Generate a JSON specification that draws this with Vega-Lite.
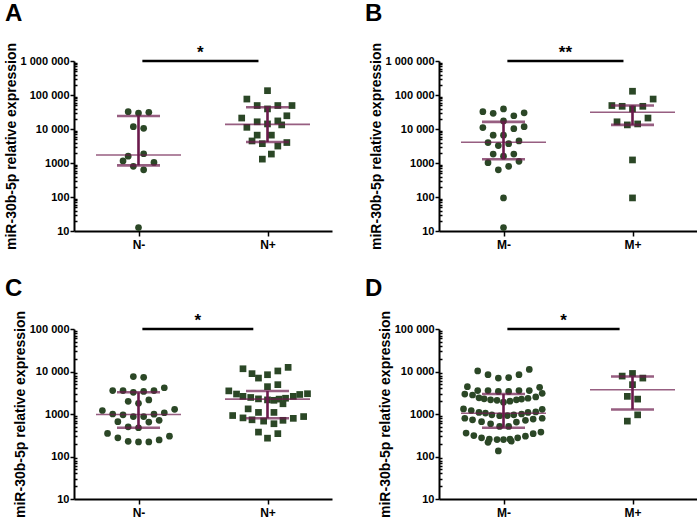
{
  "$schema": "https://vega.github.io/schema/vega-lite/v6.json",
  "padding": {"left": 4, "top": 1, "right": 0, "bottom": 0},
  "background": "white",
  "datasets": {
    "pts": [
      {"panel":"A","group":"N-","value":32400,"jitter":-0.08},
      {"panel":"A","group":"N-","value":29500,"jitter":0},
      {"panel":"A","group":"N-","value":31000,"jitter":0.08},
      {"panel":"A","group":"N-","value":11700,"jitter":-0.04},
      {"panel":"A","group":"N-","value":10500,"jitter":0.04},
      {"panel":"A","group":"N-","value":1590,"jitter":-0.08},
      {"panel":"A","group":"N-","value":1870,"jitter":0.04},
      {"panel":"A","group":"N-","value":1150,"jitter":-0.12},
      {"panel":"A","group":"N-","value":1040,"jitter":0.12},
      {"panel":"A","group":"N-","value":800,"jitter":-0.04},
      {"panel":"A","group":"N-","value":630,"jitter":0.04},
      {"panel":"A","group":"N-","value":12.6,"jitter":0},
      {"panel":"A","group":"N+","value":134000,"jitter":0},
      {"panel":"A","group":"N+","value":76000,"jitter":-0.16},
      {"panel":"A","group":"N+","value":49000,"jitter":-0.08},
      {"panel":"A","group":"N+","value":49000,"jitter":0.08},
      {"panel":"A","group":"N+","value":49000,"jitter":0.19},
      {"panel":"A","group":"N+","value":39000,"jitter":0},
      {"panel":"A","group":"N+","value":21000,"jitter":-0.2},
      {"panel":"A","group":"N+","value":24500,"jitter":0.15},
      {"panel":"A","group":"N+","value":16300,"jitter":-0.08},
      {"panel":"A","group":"N+","value":17300,"jitter":0.08},
      {"panel":"A","group":"N+","value":14100,"jitter":0},
      {"panel":"A","group":"N+","value":13200,"jitter":0.11},
      {"panel":"A","group":"N+","value":11200,"jitter":-0.16},
      {"panel":"A","group":"N+","value":6600,"jitter":-0.08},
      {"panel":"A","group":"N+","value":6600,"jitter":0.03},
      {"panel":"A","group":"N+","value":4450,"jitter":-0.12},
      {"panel":"A","group":"N+","value":3700,"jitter":-0.04},
      {"panel":"A","group":"N+","value":3150,"jitter":0.08},
      {"panel":"A","group":"N+","value":4000,"jitter":0.15},
      {"panel":"A","group":"N+","value":1830,"jitter":0.03},
      {"panel":"A","group":"N+","value":1300,"jitter":-0.04},

      {"panel":"B","group":"M-","value":32400,"jitter":-0.16},
      {"panel":"B","group":"M-","value":29000,"jitter":-0.08},
      {"panel":"B","group":"M-","value":39000,"jitter":0},
      {"panel":"B","group":"M-","value":24500,"jitter":0.08},
      {"panel":"B","group":"M-","value":30000,"jitter":0.16},
      {"panel":"B","group":"M-","value":17300,"jitter":0},
      {"panel":"B","group":"M-","value":11000,"jitter":-0.16},
      {"panel":"B","group":"M-","value":11700,"jitter":0.16},
      {"panel":"B","group":"M-","value":10200,"jitter":0.08},
      {"panel":"B","group":"M-","value":6600,"jitter":-0.08},
      {"panel":"B","group":"M-","value":6600,"jitter":0},
      {"panel":"B","group":"M-","value":4000,"jitter":-0.12},
      {"panel":"B","group":"M-","value":3250,"jitter":-0.04},
      {"panel":"B","group":"M-","value":3700,"jitter":0.04},
      {"panel":"B","group":"M-","value":4450,"jitter":0.12},
      {"panel":"B","group":"M-","value":1830,"jitter":-0.08},
      {"panel":"B","group":"M-","value":1830,"jitter":0.08},
      {"panel":"B","group":"M-","value":1590,"jitter":0},
      {"panel":"B","group":"M-","value":1020,"jitter":-0.12},
      {"panel":"B","group":"M-","value":1120,"jitter":0.12},
      {"panel":"B","group":"M-","value":800,"jitter":0.04},
      {"panel":"B","group":"M-","value":630,"jitter":-0.04},
      {"panel":"B","group":"M-","value":94,"jitter":0},
      {"panel":"B","group":"M-","value":12.6,"jitter":0},
      {"panel":"B","group":"M+","value":129000,"jitter":0},
      {"panel":"B","group":"M+","value":76000,"jitter":0.16},
      {"panel":"B","group":"M+","value":49000,"jitter":-0.16},
      {"panel":"B","group":"M+","value":46500,"jitter":-0.08},
      {"panel":"B","group":"M+","value":46500,"jitter":0.08},
      {"panel":"B","group":"M+","value":39000,"jitter":0},
      {"panel":"B","group":"M+","value":21000,"jitter":0.12},
      {"panel":"B","group":"M+","value":16300,"jitter":-0.12},
      {"panel":"B","group":"M+","value":13200,"jitter":-0.04},
      {"panel":"B","group":"M+","value":14100,"jitter":0.04},
      {"panel":"B","group":"M+","value":1230,"jitter":0},
      {"panel":"B","group":"M+","value":94,"jitter":0},

      {"panel":"C","group":"N-","value":7600,"jitter":-0.04},
      {"panel":"C","group":"N-","value":7300,"jitter":0.04},
      {"panel":"C","group":"N-","value":3550,"jitter":-0.2},
      {"panel":"C","group":"N-","value":3550,"jitter":-0.12},
      {"panel":"C","group":"N-","value":3240,"jitter":-0.04},
      {"panel":"C","group":"N-","value":3400,"jitter":0.04},
      {"panel":"C","group":"N-","value":3550,"jitter":0.12},
      {"panel":"C","group":"N-","value":4150,"jitter":0.2},
      {"panel":"C","group":"N-","value":1990,"jitter":-0.08},
      {"panel":"C","group":"N-","value":2140,"jitter":0.08},
      {"panel":"C","group":"N-","value":1780,"jitter":0},
      {"panel":"C","group":"N-","value":1210,"jitter":-0.28},
      {"panel":"C","group":"N-","value":1290,"jitter":0.28},
      {"panel":"C","group":"N-","value":1000,"jitter":-0.2},
      {"panel":"C","group":"N-","value":955,"jitter":-0.12},
      {"panel":"C","group":"N-","value":870,"jitter":-0.04},
      {"panel":"C","group":"N-","value":870,"jitter":0.04},
      {"panel":"C","group":"N-","value":990,"jitter":0.12},
      {"panel":"C","group":"N-","value":1070,"jitter":0.2},
      {"panel":"C","group":"N-","value":660,"jitter":-0.16},
      {"panel":"C","group":"N-","value":645,"jitter":0.08},
      {"panel":"C","group":"N-","value":710,"jitter":0.16},
      {"panel":"C","group":"N-","value":500,"jitter":-0.08},
      {"panel":"C","group":"N-","value":475,"jitter":0},
      {"panel":"C","group":"N-","value":350,"jitter":-0.24},
      {"panel":"C","group":"N-","value":275,"jitter":-0.16},
      {"panel":"C","group":"N-","value":228,"jitter":-0.08},
      {"panel":"C","group":"N-","value":220,"jitter":0},
      {"panel":"C","group":"N-","value":220,"jitter":0.08},
      {"panel":"C","group":"N-","value":245,"jitter":0.16},
      {"panel":"C","group":"N-","value":300,"jitter":0.24},
      {"panel":"C","group":"N+","value":11600,"jitter":-0.19},
      {"panel":"C","group":"N+","value":12500,"jitter":0.16},
      {"panel":"C","group":"N+","value":10300,"jitter":0.08},
      {"panel":"C","group":"N+","value":8900,"jitter":-0.12},
      {"panel":"C","group":"N+","value":7000,"jitter":-0.07},
      {"panel":"C","group":"N+","value":8400,"jitter":0},
      {"panel":"C","group":"N+","value":4400,"jitter":0},
      {"panel":"C","group":"N+","value":4900,"jitter":0.08},
      {"panel":"C","group":"N+","value":3500,"jitter":-0.3},
      {"panel":"C","group":"N+","value":2950,"jitter":-0.24},
      {"panel":"C","group":"N+","value":2600,"jitter":-0.19},
      {"panel":"C","group":"N+","value":2450,"jitter":-0.13},
      {"panel":"C","group":"N+","value":2270,"jitter":-0.07},
      {"panel":"C","group":"N+","value":2150,"jitter":0},
      {"panel":"C","group":"N+","value":2100,"jitter":0.05},
      {"panel":"C","group":"N+","value":2240,"jitter":0.09},
      {"panel":"C","group":"N+","value":2350,"jitter":0.14},
      {"panel":"C","group":"N+","value":2600,"jitter":0.2},
      {"panel":"C","group":"N+","value":2880,"jitter":0.25},
      {"panel":"C","group":"N+","value":3000,"jitter":0.31},
      {"panel":"C","group":"N+","value":1740,"jitter":0.12},
      {"panel":"C","group":"N+","value":1320,"jitter":-0.15},
      {"panel":"C","group":"N+","value":1090,"jitter":-0.07},
      {"panel":"C","group":"N+","value":1090,"jitter":0.05},
      {"panel":"C","group":"N+","value":920,"jitter":-0.27},
      {"panel":"C","group":"N+","value":810,"jitter":-0.19},
      {"panel":"C","group":"N+","value":730,"jitter":-0.12},
      {"panel":"C","group":"N+","value":680,"jitter":-0.03},
      {"panel":"C","group":"N+","value":590,"jitter":0.05},
      {"panel":"C","group":"N+","value":710,"jitter":0.12},
      {"panel":"C","group":"N+","value":790,"jitter":0.2},
      {"panel":"C","group":"N+","value":870,"jitter":0.28},
      {"panel":"C","group":"N+","value":375,"jitter":-0.07},
      {"panel":"C","group":"N+","value":270,"jitter":0},
      {"panel":"C","group":"N+","value":345,"jitter":0.08},

      {"panel":"D","group":"M-","value":10300,"jitter":-0.2},
      {"panel":"D","group":"M-","value":8400,"jitter":-0.12},
      {"panel":"D","group":"M-","value":7000,"jitter":-0.04},
      {"panel":"D","group":"M-","value":7200,"jitter":0.04},
      {"panel":"D","group":"M-","value":8400,"jitter":0.12},
      {"panel":"D","group":"M-","value":11200,"jitter":0.2},
      {"panel":"D","group":"M-","value":4400,"jitter":-0.28},
      {"panel":"D","group":"M-","value":4250,"jitter":0.28},
      {"panel":"D","group":"M-","value":3550,"jitter":-0.2},
      {"panel":"D","group":"M-","value":3550,"jitter":-0.12},
      {"panel":"D","group":"M-","value":3400,"jitter":-0.04},
      {"panel":"D","group":"M-","value":3400,"jitter":0.04},
      {"panel":"D","group":"M-","value":3550,"jitter":0.12},
      {"panel":"D","group":"M-","value":3550,"jitter":0.2},
      {"panel":"D","group":"M-","value":2950,"jitter":-0.3},
      {"panel":"D","group":"M-","value":3070,"jitter":0.3},
      {"panel":"D","group":"M-","value":2800,"jitter":-0.24},
      {"panel":"D","group":"M-","value":2400,"jitter":-0.19},
      {"panel":"D","group":"M-","value":2270,"jitter":-0.15},
      {"panel":"D","group":"M-","value":2150,"jitter":-0.1},
      {"panel":"D","group":"M-","value":2100,"jitter":-0.05},
      {"panel":"D","group":"M-","value":1900,"jitter":0},
      {"panel":"D","group":"M-","value":2000,"jitter":0.05},
      {"panel":"D","group":"M-","value":2150,"jitter":0.1},
      {"panel":"D","group":"M-","value":2240,"jitter":0.14},
      {"panel":"D","group":"M-","value":2350,"jitter":0.19},
      {"panel":"D","group":"M-","value":2520,"jitter":0.25},
      {"panel":"D","group":"M-","value":1320,"jitter":-0.31},
      {"panel":"D","group":"M-","value":1290,"jitter":0.3},
      {"panel":"D","group":"M-","value":1210,"jitter":-0.25},
      {"panel":"D","group":"M-","value":1090,"jitter":-0.19},
      {"panel":"D","group":"M-","value":1050,"jitter":-0.14},
      {"panel":"D","group":"M-","value":955,"jitter":-0.09},
      {"panel":"D","group":"M-","value":910,"jitter":-0.03},
      {"panel":"D","group":"M-","value":920,"jitter":0.03},
      {"panel":"D","group":"M-","value":955,"jitter":0.08},
      {"panel":"D","group":"M-","value":1000,"jitter":0.14},
      {"panel":"D","group":"M-","value":1090,"jitter":0.19},
      {"panel":"D","group":"M-","value":1120,"jitter":0.25},
      {"panel":"D","group":"M-","value":795,"jitter":-0.3},
      {"panel":"D","group":"M-","value":730,"jitter":-0.24},
      {"panel":"D","group":"M-","value":660,"jitter":-0.17},
      {"panel":"D","group":"M-","value":590,"jitter":-0.1},
      {"panel":"D","group":"M-","value":510,"jitter":-0.03},
      {"panel":"D","group":"M-","value":510,"jitter":0.04},
      {"panel":"D","group":"M-","value":645,"jitter":0.1},
      {"panel":"D","group":"M-","value":710,"jitter":0.17},
      {"panel":"D","group":"M-","value":760,"jitter":0.23},
      {"panel":"D","group":"M-","value":795,"jitter":0.3},
      {"panel":"D","group":"M-","value":355,"jitter":-0.29},
      {"panel":"D","group":"M-","value":310,"jitter":-0.23},
      {"panel":"D","group":"M-","value":275,"jitter":-0.17},
      {"panel":"D","group":"M-","value":255,"jitter":-0.11},
      {"panel":"D","group":"M-","value":250,"jitter":-0.05},
      {"panel":"D","group":"M-","value":250,"jitter":0},
      {"panel":"D","group":"M-","value":255,"jitter":0.05},
      {"panel":"D","group":"M-","value":275,"jitter":0.11},
      {"panel":"D","group":"M-","value":300,"jitter":0.17},
      {"panel":"D","group":"M-","value":345,"jitter":0.23},
      {"panel":"D","group":"M-","value":375,"jitter":0.29},
      {"panel":"D","group":"M-","value":215,"jitter":-0.12},
      {"panel":"D","group":"M-","value":230,"jitter":0.06},
      {"panel":"D","group":"M-","value":135,"jitter":-0.04},
      {"panel":"D","group":"M+","value":9000,"jitter":0},
      {"panel":"D","group":"M+","value":7800,"jitter":-0.08},
      {"panel":"D","group":"M+","value":7000,"jitter":0.08},
      {"panel":"D","group":"M+","value":4900,"jitter":0},
      {"panel":"D","group":"M+","value":2600,"jitter":-0.04},
      {"panel":"D","group":"M+","value":2240,"jitter":0.04},
      {"panel":"D","group":"M+","value":955,"jitter":0.04},
      {"panel":"D","group":"M+","value":680,"jitter":-0.04}
    ],
    "stats": [
      {"panel":"A","group":"N-","median":1720,"q1":850,"q3":24000},
      {"panel":"A","group":"N+","median":13700,"q1":4150,"q3":43500},
      {"panel":"B","group":"M-","median":4070,"q1":1290,"q3":16200},
      {"panel":"B","group":"M+","median":31000,"q1":13200,"q3":49000},
      {"panel":"C","group":"N-","median":975,"q1":475,"q3":3240},
      {"panel":"C","group":"N+","median":2240,"q1":795,"q3":3470},
      {"panel":"D","group":"M-","median":1040,"q1":475,"q3":2950},
      {"panel":"D","group":"M+","median":3730,"q1":1280,"q3":7600}
    ],
    "sig": [
      {"panel":"A","from":1.03,"to":1.93,"level":1000000,"label":"*"},
      {"panel":"B","from":1.03,"to":1.93,"level":1000000,"label":"**"},
      {"panel":"C","from":1.03,"to":1.89,"level":100000,"label":"*"},
      {"panel":"D","from":1.03,"to":1.9,"level":100000,"label":"*"}
    ]
  },
  "config": {
    "font": "Liberation Sans",
    "view": {"stroke": null},
    "axis": {"grid": false, "domainColor": "black", "domainWidth": 2, "tickColor": "black", "tickWidth": 1.5, "labelColor": "black", "labelFont": "Liberation Sans", "labelFontWeight": "bold", "labelFontSize": 11, "titleFont": "Liberation Sans", "titleFontWeight": "bold", "titleFontSize": 14, "titleColor": "black"},
    "title": {"font": "Liberation Sans", "fontSize": 24, "fontWeight": "bold", "color": "black", "anchor": "start", "frame": "group"}
  },
  "columns": 2,
  "spacing": {"row": 26, "column": 33},
  "concat": [
    {
      "width": 258, "height": 170,
      "title": {"text": "A", "dx": -69, "offset": 17},
      "layer": [
        {
          "data": {"name": "pts"},
          "transform": [{"filter": "datum.panel == 'A'"}, {"calculate": "(indexof(datum.group, '+') >= 0 ? 2 : 1) + datum.jitter", "as": "x"}],
          "mark": {"type": "point", "filled": true, "opacity": 1, "size": 45, "color": "#2b4726"},
          "encoding": {
            "x": {"field": "x", "type": "quantitative", "scale": {"domain": [0.5, 2.5], "nice": false, "zero": false}, "axis": {"title": null, "values": [1, 2], "labelExpr": "datum.value == 1 ? 'N-' : 'N+'", "labelFontSize": 12, "tickSize": 5, "labelPadding": 3}},
            "y": {"field": "value", "type": "quantitative", "scale": {"type": "log", "domain": [10, 1000000], "nice": false}, "axis": {"title": "miR-30b-5p relative expression", "titlePadding": 2, "values": [10,20,30,40,50,60,70,80,90,100,200,300,400,500,600,700,800,900,1000,2000,3000,4000,5000,6000,7000,8000,9000,10000,20000,30000,40000,50000,60000,70000,80000,90000,100000,200000,300000,400000,500000,600000,700000,800000,900000,1000000], "labelExpr": "datum.value == 1000000 ? '1 000 000' : datum.value == 100000 ? '100 000' : datum.value == 10000 ? '10 000' : datum.value == 1000 ? '1000' : datum.value == 100 ? '100' : datum.value == 10 ? '10' : ''", "tickSize": {"condition": {"test": "indexof([10,100,1000,10000,100000,1000000], datum.value) >= 0", "value": 4}, "value": -3}, "labelPadding": 1}},
            "shape": {"condition": {"test": "indexof(datum.group, '+') >= 0", "value": "square"}, "value": "circle"}
          }
        },
        {
          "data": {"name": "stats"},
          "transform": [{"filter": "datum.panel == 'A'"}, {"calculate": "indexof(datum.group, '+') >= 0 ? 2 : 1", "as": "x"}],
          "layer": [
            {"mark": {"type": "tick", "orient": "horizontal", "size": 85, "thickness": 1.6, "color": "#6b1a4c"}, "encoding": {"x": {"field": "x", "type": "quantitative"}, "y": {"field": "median", "type": "quantitative"}}},
            {"mark": {"type": "tick", "orient": "horizontal", "size": 43, "thickness": 2.6, "color": "#6b1a4c"}, "encoding": {"x": {"field": "x", "type": "quantitative"}, "y": {"field": "q1", "type": "quantitative"}}},
            {"mark": {"type": "tick", "orient": "horizontal", "size": 43, "thickness": 2.6, "color": "#6b1a4c"}, "encoding": {"x": {"field": "x", "type": "quantitative"}, "y": {"field": "q3", "type": "quantitative"}}},
            {"mark": {"type": "rule", "strokeWidth": 2.6, "color": "#6b1a4c"}, "encoding": {"x": {"field": "x", "type": "quantitative"}, "y": {"field": "q1", "type": "quantitative"}, "y2": {"field": "q3"}}}
          ]
        },
        {
          "data": {"name": "sig"},
          "transform": [{"filter": "datum.panel == 'A'"}, {"calculate": "(datum.from + datum.to) / 2", "as": "x"}],
          "layer": [
            {"mark": {"type": "rule", "strokeWidth": 2.6, "color": "black"}, "encoding": {"x": {"field": "from", "type": "quantitative"}, "x2": {"field": "to"}, "y": {"field": "level", "type": "quantitative"}}},
            {"mark": {"type": "text", "fontSize": 17, "fontWeight": "bold", "baseline": "alphabetic", "dy": -3, "color": "black"}, "encoding": {"x": {"field": "x", "type": "quantitative"}, "y": {"field": "level", "type": "quantitative"}, "text": {"field": "label"}}}
          ]
        }
      ]
    },
    {
      "width": 258, "height": 170,
      "title": {"text": "B", "dx": -74, "offset": 17},
      "layer": [
        {
          "data": {"name": "pts"},
          "transform": [{"filter": "datum.panel == 'B'"}, {"calculate": "(indexof(datum.group, '+') >= 0 ? 2 : 1) + datum.jitter", "as": "x"}],
          "mark": {"type": "point", "filled": true, "opacity": 1, "size": 45, "color": "#2b4726"},
          "encoding": {
            "x": {"field": "x", "type": "quantitative", "scale": {"domain": [0.5, 2.5], "nice": false, "zero": false}, "axis": {"title": null, "values": [1, 2], "labelExpr": "datum.value == 1 ? 'M-' : 'M+'", "labelFontSize": 12, "tickSize": 5, "labelPadding": 3}},
            "y": {"field": "value", "type": "quantitative", "scale": {"type": "log", "domain": [10, 1000000], "nice": false}, "axis": {"title": "miR-30b-5p relative expression", "titlePadding": 2, "values": [10,20,30,40,50,60,70,80,90,100,200,300,400,500,600,700,800,900,1000,2000,3000,4000,5000,6000,7000,8000,9000,10000,20000,30000,40000,50000,60000,70000,80000,90000,100000,200000,300000,400000,500000,600000,700000,800000,900000,1000000], "labelExpr": "datum.value == 1000000 ? '1 000 000' : datum.value == 100000 ? '100 000' : datum.value == 10000 ? '10 000' : datum.value == 1000 ? '1000' : datum.value == 100 ? '100' : datum.value == 10 ? '10' : ''", "tickSize": {"condition": {"test": "indexof([10,100,1000,10000,100000,1000000], datum.value) >= 0", "value": 4}, "value": -3}, "labelPadding": 1}},
            "shape": {"condition": {"test": "indexof(datum.group, '+') >= 0", "value": "square"}, "value": "circle"}
          }
        },
        {
          "data": {"name": "stats"},
          "transform": [{"filter": "datum.panel == 'B'"}, {"calculate": "indexof(datum.group, '+') >= 0 ? 2 : 1", "as": "x"}],
          "layer": [
            {"mark": {"type": "tick", "orient": "horizontal", "size": 85, "thickness": 1.6, "color": "#6b1a4c"}, "encoding": {"x": {"field": "x", "type": "quantitative"}, "y": {"field": "median", "type": "quantitative"}}},
            {"mark": {"type": "tick", "orient": "horizontal", "size": 43, "thickness": 2.6, "color": "#6b1a4c"}, "encoding": {"x": {"field": "x", "type": "quantitative"}, "y": {"field": "q1", "type": "quantitative"}}},
            {"mark": {"type": "tick", "orient": "horizontal", "size": 43, "thickness": 2.6, "color": "#6b1a4c"}, "encoding": {"x": {"field": "x", "type": "quantitative"}, "y": {"field": "q3", "type": "quantitative"}}},
            {"mark": {"type": "rule", "strokeWidth": 2.6, "color": "#6b1a4c"}, "encoding": {"x": {"field": "x", "type": "quantitative"}, "y": {"field": "q1", "type": "quantitative"}, "y2": {"field": "q3"}}}
          ]
        },
        {
          "data": {"name": "sig"},
          "transform": [{"filter": "datum.panel == 'B'"}, {"calculate": "(datum.from + datum.to) / 2", "as": "x"}],
          "layer": [
            {"mark": {"type": "rule", "strokeWidth": 2.6, "color": "black"}, "encoding": {"x": {"field": "from", "type": "quantitative"}, "x2": {"field": "to"}, "y": {"field": "level", "type": "quantitative"}}},
            {"mark": {"type": "text", "fontSize": 17, "fontWeight": "bold", "baseline": "alphabetic", "dy": -3, "color": "black"}, "encoding": {"x": {"field": "x", "type": "quantitative"}, "y": {"field": "level", "type": "quantitative"}, "text": {"field": "label"}}}
          ]
        }
      ]
    },
    {
      "width": 258, "height": 170,
      "title": {"text": "C", "dx": -69, "offset": 10},
      "layer": [
        {
          "data": {"name": "pts"},
          "transform": [{"filter": "datum.panel == 'C'"}, {"calculate": "(indexof(datum.group, '+') >= 0 ? 2 : 1) + datum.jitter", "as": "x"}],
          "mark": {"type": "point", "filled": true, "opacity": 1, "size": 45, "color": "#2b4726"},
          "encoding": {
            "x": {"field": "x", "type": "quantitative", "scale": {"domain": [0.5, 2.5], "nice": false, "zero": false}, "axis": {"title": null, "values": [1, 2], "labelExpr": "datum.value == 1 ? 'N-' : 'N+'", "labelFontSize": 12, "tickSize": 5, "labelPadding": 3}},
            "y": {"field": "value", "type": "quantitative", "scale": {"type": "log", "domain": [10, 100000], "nice": false}, "axis": {"title": "miR-30b-5p relative expression", "titlePadding": 2, "values": [10,20,30,40,50,60,70,80,90,100,200,300,400,500,600,700,800,900,1000,2000,3000,4000,5000,6000,7000,8000,9000,10000,20000,30000,40000,50000,60000,70000,80000,90000,100000], "labelExpr": "datum.value == 100000 ? '100 000' : datum.value == 10000 ? '10 000' : datum.value == 1000 ? '1000' : datum.value == 100 ? '100' : datum.value == 10 ? '10' : ''", "tickSize": {"condition": {"test": "indexof([10,100,1000,10000,100000], datum.value) >= 0", "value": 4}, "value": -3}, "labelPadding": 1}},
            "shape": {"condition": {"test": "indexof(datum.group, '+') >= 0", "value": "square"}, "value": "circle"}
          }
        },
        {
          "data": {"name": "stats"},
          "transform": [{"filter": "datum.panel == 'C'"}, {"calculate": "indexof(datum.group, '+') >= 0 ? 2 : 1", "as": "x"}],
          "layer": [
            {"mark": {"type": "tick", "orient": "horizontal", "size": 85, "thickness": 1.6, "color": "#6b1a4c"}, "encoding": {"x": {"field": "x", "type": "quantitative"}, "y": {"field": "median", "type": "quantitative"}}},
            {"mark": {"type": "tick", "orient": "horizontal", "size": 43, "thickness": 2.6, "color": "#6b1a4c"}, "encoding": {"x": {"field": "x", "type": "quantitative"}, "y": {"field": "q1", "type": "quantitative"}}},
            {"mark": {"type": "tick", "orient": "horizontal", "size": 43, "thickness": 2.6, "color": "#6b1a4c"}, "encoding": {"x": {"field": "x", "type": "quantitative"}, "y": {"field": "q3", "type": "quantitative"}}},
            {"mark": {"type": "rule", "strokeWidth": 2.6, "color": "#6b1a4c"}, "encoding": {"x": {"field": "x", "type": "quantitative"}, "y": {"field": "q1", "type": "quantitative"}, "y2": {"field": "q3"}}}
          ]
        },
        {
          "data": {"name": "sig"},
          "transform": [{"filter": "datum.panel == 'C'"}, {"calculate": "(datum.from + datum.to) / 2", "as": "x"}],
          "layer": [
            {"mark": {"type": "rule", "strokeWidth": 2.6, "color": "black"}, "encoding": {"x": {"field": "from", "type": "quantitative"}, "x2": {"field": "to"}, "y": {"field": "level", "type": "quantitative"}}},
            {"mark": {"type": "text", "fontSize": 17, "fontWeight": "bold", "baseline": "alphabetic", "dy": -3, "color": "black"}, "encoding": {"x": {"field": "x", "type": "quantitative"}, "y": {"field": "level", "type": "quantitative"}, "text": {"field": "label"}}}
          ]
        }
      ]
    },
    {
      "width": 258, "height": 170,
      "title": {"text": "D", "dx": -74, "offset": 10},
      "layer": [
        {
          "data": {"name": "pts"},
          "transform": [{"filter": "datum.panel == 'D'"}, {"calculate": "(indexof(datum.group, '+') >= 0 ? 2 : 1) + datum.jitter", "as": "x"}],
          "mark": {"type": "point", "filled": true, "opacity": 1, "size": 45, "color": "#2b4726"},
          "encoding": {
            "x": {"field": "x", "type": "quantitative", "scale": {"domain": [0.5, 2.5], "nice": false, "zero": false}, "axis": {"title": null, "values": [1, 2], "labelExpr": "datum.value == 1 ? 'M-' : 'M+'", "labelFontSize": 12, "tickSize": 5, "labelPadding": 3}},
            "y": {"field": "value", "type": "quantitative", "scale": {"type": "log", "domain": [10, 100000], "nice": false}, "axis": {"title": "miR-30b-5p relative expression", "titlePadding": 2, "values": [10,20,30,40,50,60,70,80,90,100,200,300,400,500,600,700,800,900,1000,2000,3000,4000,5000,6000,7000,8000,9000,10000,20000,30000,40000,50000,60000,70000,80000,90000,100000], "labelExpr": "datum.value == 100000 ? '100 000' : datum.value == 10000 ? '10 000' : datum.value == 1000 ? '1000' : datum.value == 100 ? '100' : datum.value == 10 ? '10' : ''", "tickSize": {"condition": {"test": "indexof([10,100,1000,10000,100000], datum.value) >= 0", "value": 4}, "value": -3}, "labelPadding": 1}},
            "shape": {"condition": {"test": "indexof(datum.group, '+') >= 0", "value": "square"}, "value": "circle"}
          }
        },
        {
          "data": {"name": "stats"},
          "transform": [{"filter": "datum.panel == 'D'"}, {"calculate": "indexof(datum.group, '+') >= 0 ? 2 : 1", "as": "x"}],
          "layer": [
            {"mark": {"type": "tick", "orient": "horizontal", "size": 85, "thickness": 1.6, "color": "#6b1a4c"}, "encoding": {"x": {"field": "x", "type": "quantitative"}, "y": {"field": "median", "type": "quantitative"}}},
            {"mark": {"type": "tick", "orient": "horizontal", "size": 43, "thickness": 2.6, "color": "#6b1a4c"}, "encoding": {"x": {"field": "x", "type": "quantitative"}, "y": {"field": "q1", "type": "quantitative"}}},
            {"mark": {"type": "tick", "orient": "horizontal", "size": 43, "thickness": 2.6, "color": "#6b1a4c"}, "encoding": {"x": {"field": "x", "type": "quantitative"}, "y": {"field": "q3", "type": "quantitative"}}},
            {"mark": {"type": "rule", "strokeWidth": 2.6, "color": "#6b1a4c"}, "encoding": {"x": {"field": "x", "type": "quantitative"}, "y": {"field": "q1", "type": "quantitative"}, "y2": {"field": "q3"}}}
          ]
        },
        {
          "data": {"name": "sig"},
          "transform": [{"filter": "datum.panel == 'D'"}, {"calculate": "(datum.from + datum.to) / 2", "as": "x"}],
          "layer": [
            {"mark": {"type": "rule", "strokeWidth": 2.6, "color": "black"}, "encoding": {"x": {"field": "from", "type": "quantitative"}, "x2": {"field": "to"}, "y": {"field": "level", "type": "quantitative"}}},
            {"mark": {"type": "text", "fontSize": 17, "fontWeight": "bold", "baseline": "alphabetic", "dy": -3, "color": "black"}, "encoding": {"x": {"field": "x", "type": "quantitative"}, "y": {"field": "level", "type": "quantitative"}, "text": {"field": "label"}}}
          ]
        }
      ]
    }
  ]
}
